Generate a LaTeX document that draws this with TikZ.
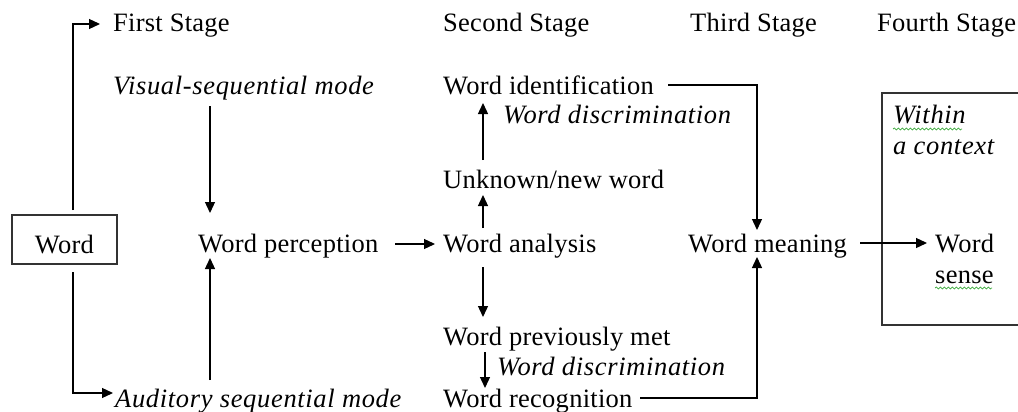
\documentclass[tikz,border=0pt]{standalone}
\usepackage{fontspec}
\setmainfont{Liberation Serif}[LetterSpace=1,ItalicFeatures={LetterSpace=2.5}]
\usetikzlibrary{arrows.meta,decorations.pathmorphing}
\begin{document}
\begin{tikzpicture}[x=1pt,y=-1pt,
  txt/.style={anchor=base west,inner sep=0pt,font=\fontsize{26.5}{30}\selectfont},
  itxt/.style={txt,font=\fontsize{26.5}{30}\selectfont\itshape},
  conn/.style={line width=1.3pt,line join=miter},
  arr/.style={conn,-{Triangle[length=11pt,width=10pt]}},
  frame/.style={line width=1.3pt,draw=black!80},
  spell/.style={draw={rgb,255:red,60;green,170;blue,60},line width=0.7pt,
    decorate,decoration={snake,segment length=4pt,amplitude=1pt}}]
\useasboundingbox (0,0) rectangle (1018,412);

% stage headings
\node[txt] (fs)  at (113,32) {First Stage};
\node[txt] (ss)  at (443,32) {Second Stage};
\node[txt] (ts)  at (690,32) {Third Stage};
\node[txt] (fos) at (877,32) {Fourth Stage};

% word box
\node[txt,anchor=base,draw,frame,line width=1.3pt,minimum width=105pt,text height=38pt,text depth=11pt] (word) at (64.5,253) {Word};

% first stage
\node[itxt] (vis) at (113,95) {Visual-sequential mode};
\node[itxt] (aud) at (115,407) {Auditory sequential mode};
\node[txt] (wp) at (198,252) {Word perception};

% second stage
\node[txt] (wi) at (443,95) {Word identification};
\node[itxt] (wd1) at (503,123) {Word discrimination};
\node[txt] (un) at (443,188) {Unknown/new word};
\node[txt] (wa) at (443,252) {Word analysis};
\node[txt] (pm) at (443,345) {Word previously met};
\node[itxt] (wd2) at (497,375) {Word discrimination};
\node[txt] (wr) at (443,407) {Word recognition};

% third stage
\node[txt] (wm) at (688,252) {Word meaning};

% fourth stage
\node[itxt] (within) at (893,123) {Within};
\node[itxt] (ctx) at (893,154) {a context};
\node[txt] (ws1) at (935,252) {Word};
\node[txt] (ws2) at (935,283) {sense};
\draw[frame] (1020,93) -- (882,93) -- (882,325) -- (1020,325);
\draw[spell] (893,129) -- (962,129);
\draw[spell] (935,288) -- (992,288);

% connector end points
\coordinate (wTop) at (73,210);
\coordinate (fsIn) at (100,24);
\coordinate (wBot) at (73,272);
\coordinate (audIn) at (113,393);
\coordinate (visOut) at (210,106);
\coordinate (wpTop) at (210,213);
\coordinate (audOut) at (210,380);
\coordinate (wpBot) at (210,258);
\coordinate (wpOut) at (395,244);
\coordinate (waIn) at (435,244);
\coordinate (unOut) at (483,160);
\coordinate (wiIn) at (483,103);
\coordinate (waUp) at (483,228);
\coordinate (unIn) at (483,195);
\coordinate (waDn) at (483,267);
\coordinate (pmIn) at (483,317);
\coordinate (pmOut) at (485,352);
\coordinate (wrIn) at (485,388);
\coordinate (wiOut) at (668,85);
\coordinate (wmTop) at (757,230);
\coordinate (wrOut) at (640,398);
\coordinate (wmBot) at (757,257);
\coordinate (wmOut) at (860,243);
\coordinate (wsIn) at (927,243);

\draw[arr] (wTop) |- (fsIn);
\draw[arr] (wBot) |- (audIn);
\draw[arr] (visOut) -- (wpTop);
\draw[arr] (audOut) -- (wpBot);
\draw[arr] (wpOut) -- (waIn);
\draw[arr] (unOut) -- (wiIn);
\draw[arr] (waUp) -- (unIn);
\draw[arr] (waDn) -- (pmIn);
\draw[arr] (pmOut) -- (wrIn);
\draw[arr] (wiOut) -| (wmTop);
\draw[arr] (wrOut) -| (wmBot);
\draw[arr] (wmOut) -- (wsIn);
\end{tikzpicture}
\end{document}
